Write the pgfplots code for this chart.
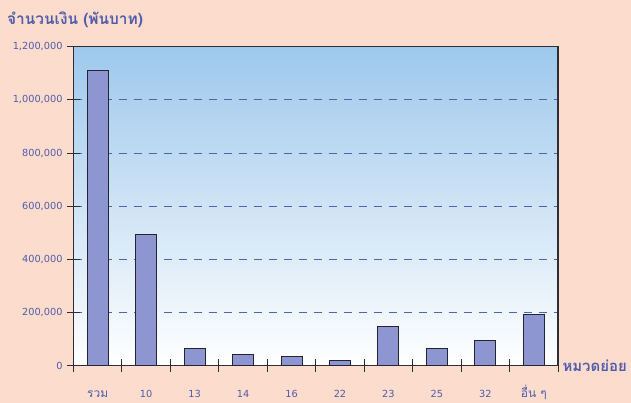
\documentclass[border=0pt]{standalone}
\usepackage{fontspec}
\setmainfont{DejaVu Sans}
\newfontfamily\thai[Script=Thai]{Loma}
\usepackage{pgfplots}
\pgfplotsset{compat=1.18}
\definecolor{bgpeach}{RGB}{252,220,204}
\definecolor{txtblue}{RGB}{80,92,172}
\definecolor{gridblue}{RGB}{80,100,180}
\definecolor{topblue}{RGB}{158,200,236}
\definecolor{barfill}{RGB}{142,150,210}
\begin{document}
\begin{tikzpicture}
\fill[bgpeach] (0,0) rectangle (631bp,403bp);
\begin{axis}[
  at={(73.5bp,37.3bp)}, anchor=south west,
  scale only axis, width=484.5bp, height=319bp,
  xmin=-0.5, xmax=9.5, ymin=0, ymax=1200000,
  axis background/.style={top color=topblue, bottom color=white},
  axis line style={draw={rgb,255:red,45;green,45;blue,55}, line width=1.1bp},
  xtick pos=bottom, ytick pos=left,
  xtick={0,...,9},
  xticklabels={{\thai\fontsize{12}{14}\selectfont รวม},10,13,14,16,22,23,25,32,{\thai\fontsize{12}{14}\selectfont อื่น ๆ}},
  major x tick style={draw=none},
  minor xtick={-0.5,0.5,...,9.5},
  ytick={0,200000,...,1200000},
  scaled y ticks=false,
  tick align=center,
  major tick length=13bp, minor tick length=13bp,
  tick style={draw={rgb,255:red,45;green,45;blue,55}, line width=1bp},
  ymajorgrids,
  major grid style={draw=gridblue, dash pattern=on 8bp off 7bp, line width=1bp},
  yticklabel style={/pgf/number format/fixed, /pgf/number format/1000 sep={,}, /pgf/number format/assume math mode=true, text=txtblue, font=\fontsize{9.8}{11}\selectfont, xshift=-1bp},
  xticklabel style={text=txtblue, font=\fontsize{9.8}{11}\selectfont, anchor=base, text depth=0bp, inner sep=1bp, yshift=-25.5bp},
  xlabel={\thai หมวดย่อย},
  xlabel style={at={(rel axis cs:1,0)}, anchor=west, xshift=1bp, text=txtblue, font=\bfseries\fontsize{15}{17}\selectfont},
]
\addplot[ybar, bar width=21bp, fill=barfill, draw={rgb,255:red,35;green,35;blue,50}, line width=1bp]
  coordinates {(0,1110000) (1,493000) (2,65000) (3,43000) (4,35000) (5,19000) (6,146000) (7,63000) (8,93000) (9,192000)};
\end{axis}
\node[anchor=west, text=txtblue, font=\thai\bfseries\fontsize{15.5}{17}\selectfont, inner sep=0pt] at (7bp,383bp) {จำนวนเงิน (พันบาท)};
\pgfresetboundingbox
\useasboundingbox (0,0) rectangle (631bp,403bp);
\end{tikzpicture}
\end{document}
